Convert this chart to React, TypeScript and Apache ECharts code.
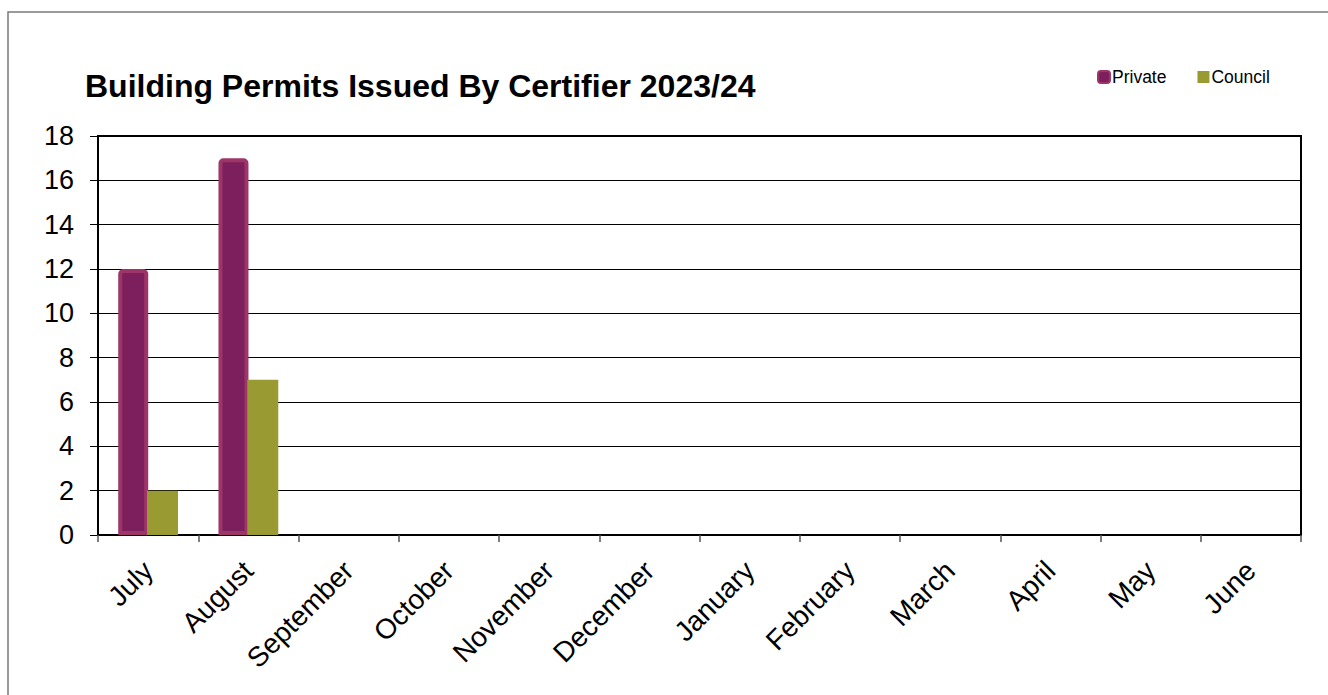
import React, { useEffect, useRef } from "react";
import * as echarts from "echarts";

const months = ["July", "August", "September", "October", "November", "December", "January", "February", "March", "April", "May", "June"];
const privateValues = [12, 17, 0, 0, 0, 0, 0, 0, 0, 0, 0, 0];
const councilValues = [2, 7, 0, 0, 0, 0, 0, 0, 0, 0, 0, 0];
const yTicks = { min: 0, max: 18, interval: 2 };
const titleText = "Building Permits Issued By Certifier 2023/24";
const seriesNames = ["Private", "Council"];

const FONT = "'Liberation Sans', Arial, sans-serif";

export default function App() {
  const ref = useRef<HTMLDivElement>(null);
  useEffect(() => {
    if (!ref.current) return;
    const chart = echarts.init(ref.current, undefined, { renderer: "svg" });
    chart.setOption({
      animation: false,
      backgroundColor: "#ffffff",
      title: {
        text: titleText,
        left: 80,
        top: 65,
        textStyle: { fontFamily: FONT, fontSize: 32, fontWeight: "bold", color: "#000" },
      },
      legend: {
        left: 1092,
        top: 63,
        itemWidth: 12,
        itemHeight: 12,
        itemGap: 31,
        textStyle: { fontFamily: FONT, fontSize: 17.5, color: "#000", padding: [0, 0, 0, -3] },
        data: [
          { name: seriesNames[0], icon: "roundRect" },
          { name: seriesNames[1], icon: "rect" },
        ],
      },
      graphic: [
        {
          type: "rect",
          shape: { x: 8, y: 12, width: 1400, height: 800 },
          style: { fill: "none", stroke: "#7a7a7a", lineWidth: 1.5 },
          silent: true,
        },
      ],
      grid: {
        left: 98,
        top: 136,
        right: 27,
        bottom: 160,
        show: true,
        borderColor: "#000",
        borderWidth: 2,
        containLabel: false,
      },
      xAxis: {
        type: "category",
        data: months,
        axisLine: { lineStyle: { color: "#000", width: 2 } },
        axisTick: { show: true, length: 7, lineStyle: { color: "#555", width: 1.5 } },
        axisLabel: {
          rotate: 45,
          interval: 0,
          margin: 31,
          fontFamily: FONT,
          fontSize: 28,
          color: "#000",
        },
      },
      yAxis: {
        type: "value",
        min: yTicks.min,
        max: yTicks.max,
        interval: yTicks.interval,
        axisLine: { show: true, lineStyle: { color: "#000", width: 2 } },
        axisTick: { show: true, length: 8, lineStyle: { color: "#000", width: 1 } },
        axisLabel: { margin: 24, fontFamily: FONT, fontSize: 27, color: "#000" },
        splitLine: { show: true, lineStyle: { color: "#000", width: 1 } },
      },
      series: [
        {
          name: seriesNames[0],
          type: "bar",
          data: privateValues.map((v) =>
            v === 0 ? { value: v, itemStyle: { borderWidth: 0, opacity: 0 } } : v
          ),
          barWidth: 30,
          barGap: "-4%",
          itemStyle: {
            color: "#7e1f5d",
            borderColor: "#9d3569",
            borderWidth: 4,
            borderRadius: [3, 3, 0, 0],
          },
        },
        {
          name: seriesNames[1],
          type: "bar",
          data: councilValues,
          barWidth: 31,
          itemStyle: { color: "#9a9a33" },
        },
      ],
    });
    return () => chart.dispose();
  }, []);
  return (
    <div
      ref={ref}
      style={{ position: "absolute", left: 0, top: 0, width: 1328, height: 695 }}
    />
  );
}
